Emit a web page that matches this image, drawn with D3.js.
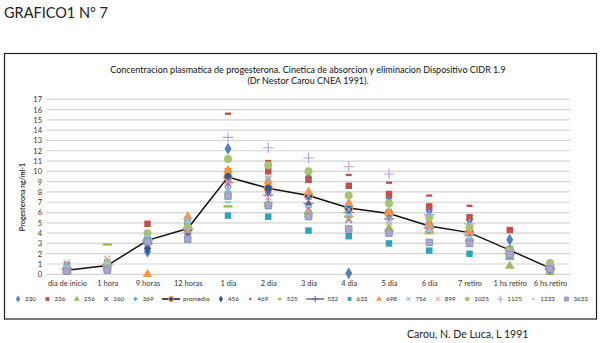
<!DOCTYPE html>
<html>
<head>
<meta charset="utf-8">
<script src="https://cdn.jsdelivr.net/npm/d3@7"></script>
<style>
  html, body { margin: 0; padding: 0; background: #fff; }
  svg { display: block; font-family: Lato, "Open Sans", "DejaVu Sans", sans-serif; }
</style>
</head>
<body>
<svg id="chart" width="600" height="343"></svg>
<script>
// Sampling times (categories)
const categories = ["dia de inicio", "1 hora", "9 horas", "12 horas", "1 dia", "2 dia", "3 dia",
  "4 dia", "5 dia", "6 dia", "7 retiro", "1 hs retiro", "6 hs retiro"];

// Y axis ticks (ng/ml)
const yTicks = d3.range(0, 18);

// Plasma progesterone per animal (ng/ml)
const s230  = [0.5, 0.9, 2.2, 4.0, 12.2, 8.0, 9.4, 0.1, 7.45, 6.2, 5.3, 3.35, 0.5];
const s236  = [0.6, 0.8, 4.9, 5.0, 10.0, 10.0, 9.2, 8.6, 7.8, 6.6, 5.55, 4.3, 0.6];
const s256  = [0.3, 0.6, 3.1, 4.3, 9.6, 6.8, 5.8, 6.8, 4.5, 4.4, 3.4, 0.8, 0.2];
const s260  = [0.4, 0.7, 2.8, 4.1, 8.8, 7.9, 6.4, 5.3, 5.6, 4.4, 3.7, 2.1, 0.6];
const s369  = [0.7, 1.0, 3.6, 5.0, 8.2, 9.3, 7.4, 6.0, 6.2, 5.0, 4.2, 2.6, 0.8];
const promedio = [0.4, 0.85, 3.3, 4.45, 9.45, 8.35, 7.65, 6.45, 5.9, 4.7, 4.05, 2.35, 0.6];
const s456  = [0.5, 1.0, 2.5, 4.6, 9.5, 8.3, 6.7, 6.25, 5.8, 4.7, 4.0, 2.3, 0.6];
const s469  = [0.3, 0.6, 3.5, 4.8, 15.6, 11.0, 9.0, 9.65, 8.9, 7.65, 6.65, 2.5, 0.5];
const s525  = [0.6, 2.9, 3.2, 4.4, 6.6, 6.9, 5.9, 5.6, 4.2, 4.0, 3.3, 1.5, 0.7];
const s532  = [0.5, 0.9, 3.0, 4.3, 8.9, 7.7, 6.9, 6.0, 5.4, 4.5, 3.8, 2.0, 0.5];
const s633  = [0.9, 1.1, 3.5, 4.9, 5.7, 5.6, 4.25, 3.7, 3.0, 2.3, 2.0, 1.8, 0.5];
const s698  = [0.4, 0.8, 0.0, 5.6, 10.1, 9.0, 8.0, 6.9, 6.0, 4.8, 4.1, 2.0, 0.6];
const s756  = [0.8, 1.2, 3.9, 5.3, 8.2, 9.3, 7.6, 6.3, 5.5, 4.5, 3.6, 2.4, 0.8];
const s899  = [1.1, 1.5, 3.0, 4.3, 9.0, 7.5, 6.25, 5.45, 5.1, 4.3, 3.5, 2.2, 0.7];
const s1025 = [0.5, 1.0, 4.0, 4.6, 11.2, 10.6, 10.0, 7.65, 6.9, 5.55, 4.6, 2.3, 1.1];
const s1125 = [0.6, 0.9, 3.3, 4.5, 13.3, 12.3, 11.3, 10.45, 9.75, 5.8, 4.9, 2.3, 0.9];
const s1233 = [0.7, 1.1, 3.7, 5.1, 7.0, 6.4, 6.6, 5.8, 5.0, 4.2, 3.6, 2.0, 0.7];
const s3633 = [0.3, 0.4, 3.2, 3.4, 7.6, 6.7, 5.6, 4.4, 4.0, 3.1, 3.0, 1.9, 0.5];

const seriesNames = ["230", "236", "256", "260", "369", "promedio", "456", "469", "525", "532",
  "633", "698", "756", "899", "1025", "1125", "1233", "3633"];
const seriesValues = [s230, s236, s256, s260, s369, promedio, s456, s469, s525, s532,
  s633, s698, s756, s899, s1025, s1125, s1233, s3633];

// Marker styling per series
const style = {
  "230":  { shape: "diamond",  color: "#4F81BD" },
  "236":  { shape: "square",   color: "#C0504D" },
  "256":  { shape: "triangle", color: "#9BBB59" },
  "260":  { shape: "times",    color: "#8064A2" },
  "369":  { shape: "asterisk", color: "#4BACC6" },
  "promedio": { shape: "circle", color: "#1F3A66", stroke: "#F79646", line: "#111" },
  "456":  { shape: "diamond",  color: "#2C5A93" },
  "469":  { shape: "dash",     color: "#C0504D" },
  "525":  { shape: "longdash", color: "#9BBB59" },
  "532":  { shape: "plus",     color: "#7A5FA0", legendLine: true },
  "633":  { shape: "square",   color: "#31A2BE" },
  "698":  { shape: "triangle", color: "#F79646" },
  "756":  { shape: "times",    color: "#95B3D7" },
  "899":  { shape: "times",    color: "#E6A0A0" },
  "1025": { shape: "circle",   color: "#A9C46E" },
  "1125": { shape: "plus",     color: "#B3A2D0" },
  "1233": { shape: "dash",     color: "#93CDDD" },
  "3633": { shape: "square",   color: "#A6A9CC", stroke: "#8E93BC" }
};

const svg = d3.select("#chart");

// Page heading
svg.append("text").attr("x", 4).attr("y", 18)
  .attr("font-size", 14.5).attr("fill", "#222").text("GRAFICO1 Nº 7");

// Chart frame
svg.append("rect").attr("x", 4.5).attr("y", 53.5).attr("width", 592).attr("height", 265.5)
  .attr("fill", "#fff").attr("stroke", "#222").attr("stroke-width", 1.2);

// Title
const title = svg.append("text").attr("text-anchor", "middle").attr("fill", "#111").attr("font-size", 9);
title.append("tspan").attr("x", 308).attr("y", 73)
  .text("Concentracion plasmatica de progesterona.  Cinetica de absorcion y eliminacion Dispositivo CIDR 1.9");
title.append("tspan").attr("x", 308).attr("y", 84)
  .text("(Dr Nestor Carou CNEA 1991).");

// Scales
const x = d3.scalePoint().domain(categories).range([67, 550]);
const y = d3.scaleLinear().domain([0, 17]).range([274.3, 99.3]);

// Gridlines
svg.append("g").selectAll("line").data(yTicks).join("line")
  .attr("x1", 47).attr("x2", 570)
  .attr("y1", d => y(d)).attr("y2", d => y(d))
  .attr("stroke", "#D4D4D4").attr("stroke-width", 1.2);

// Y axis
const yAxis = svg.append("g").attr("transform", "translate(47,0)")
  .call(d3.axisLeft(y).tickValues(yTicks).tickSize(0).tickPadding(5));
yAxis.select(".domain").remove();
yAxis.selectAll("text").attr("font-size", 7.5).attr("fill", "#333")
  .attr("font-family", "Lato, 'Open Sans', sans-serif");

// X axis labels
const xAxis = svg.append("g").attr("transform", "translate(0,274.3)")
  .call(d3.axisBottom(x).tickSize(0).tickPadding(6));
xAxis.select(".domain").remove();
xAxis.selectAll("text").attr("font-size", 7.5).attr("fill", "#333")
  .attr("font-family", "Lato, 'Open Sans', sans-serif");

// Y axis title
svg.append("text")
  .attr("transform", "translate(25,197) rotate(-90)")
  .attr("text-anchor", "middle").attr("font-size", 7).attr("font-weight", "bold").attr("fill", "#333")
  .text("Progesterona ng/ml-1");

// Marker drawing
function marker(g, shape, color, st, scale) {
  const k = scale || 1;
  switch (shape) {
    case "diamond":
      g.append("path").attr("d", d3.symbol(d3.symbolDiamond, 42 * k)()).attr("fill", color); break;
    case "square":
      g.append("path").attr("d", d3.symbol(d3.symbolSquare, 42 * k)()).attr("fill", color)
        .attr("stroke", st || "none").attr("stroke-width", 1); break;
    case "triangle":
      g.append("path").attr("d", d3.symbol(d3.symbolTriangle, 40 * k)()).attr("fill", color); break;
    case "circle":
      g.append("path").attr("d", d3.symbol(d3.symbolCircle, 50 * k)()).attr("fill", color)
        .attr("stroke", st || "none").attr("stroke-width", 1.2); break;
    case "times":
      g.append("path").attr("d", d3.symbol(d3.symbolTimes, 30 * k)()).attr("fill", "none")
        .attr("stroke", color).attr("stroke-width", 1.1); break;
    case "plus":
      g.append("path").attr("d", d3.symbol(d3.symbolPlus, 38 * k)()).attr("fill", "none")
        .attr("stroke", color).attr("stroke-width", 1.1); break;
    case "asterisk":
      g.append("path").attr("d", d3.symbol(d3.symbolAsterisk, 34 * k)()).attr("fill", "none")
        .attr("stroke", color).attr("stroke-width", 1.1); break;
    case "dash":
      g.append("rect").attr("x", -3 * k).attr("y", -1.2).attr("width", 6 * k).attr("height", 2.4).attr("fill", color); break;
    case "longdash":
      g.append("rect").attr("x", -4.5 * k).attr("y", -1.2).attr("width", 9 * k).attr("height", 2.4).attr("fill", color); break;
  }
}

// Series: markers, average line drawn with its own series order
const plot = svg.append("g");
seriesNames.forEach((name, i) => {
  const vals = seriesValues[i];
  const st = style[name];
  if (st.line) {
    plot.append("path")
      .datum(vals)
      .attr("d", d3.line().x((d, j) => x(categories[j])).y(d => y(d)))
      .attr("fill", "none").attr("stroke", st.line).attr("stroke-width", 1.5);
  }
  vals.forEach((v, j) => {
    if (v == null) return;
    const g = plot.append("g").attr("transform", `translate(${x(categories[j])},${y(v)})`);
    marker(g, st.shape, st.color, st.stroke);
  });
});

// Legend: build entries, then spread them evenly across the frame width
const legend = svg.append("g").attr("transform", "translate(0,299)");
const entries = seriesNames.map(name => {
  const st = style[name];
  const hasLine = !!(st.line || st.legendLine);
  const g = legend.append("g");
  const symW = hasLine ? 21 : 10;
  if (hasLine) {
    g.append("line").attr("x1", 0).attr("x2", 18).attr("y1", 0).attr("y2", 0)
      .attr("stroke", st.line || st.color).attr("stroke-width", 1.5);
    marker(g.append("g").attr("transform", "translate(9,0)"), st.shape, st.color, st.stroke, 0.35);
  } else {
    marker(g.append("g").attr("transform", "translate(3,0)"), st.shape, st.color, st.stroke, 0.35);
  }
  const t = g.append("text").attr("x", symW).attr("y", 2.4).attr("font-size", 6.3)
    .attr("fill", "#333").text(name);
  return { g, w: symW + t.node().getComputedTextLength() };
});
const legendStart = 15, legendEnd = 588;
const totalW = d3.sum(entries, e => e.w);
const gap = (legendEnd - legendStart - totalW) / (entries.length - 1);
let lx = legendStart;
entries.forEach(e => {
  e.g.attr("transform", `translate(${lx},0)`);
  lx += e.w + gap;
});

// Source note
svg.append("text").attr("x", 407).attr("y", 338).attr("font-size", 10.6).attr("fill", "#222")
  .text("Carou, N. De Luca, L 1991");
</script>
</body>
</html>
